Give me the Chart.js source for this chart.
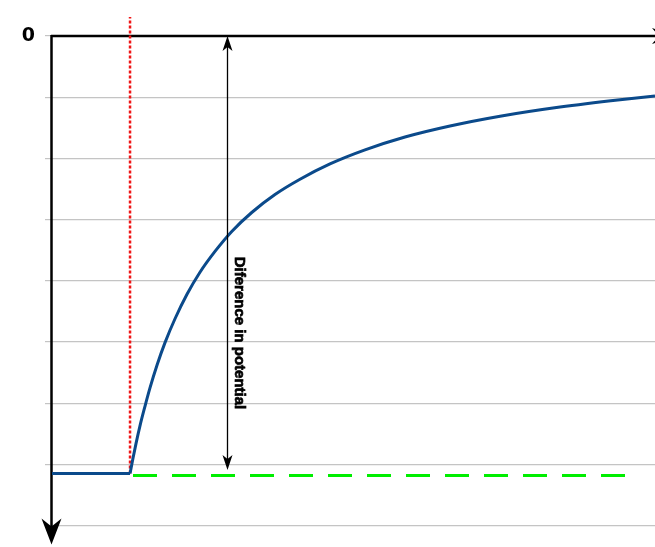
<!DOCTYPE html>
<html><head><meta charset="utf-8">
<script src="https://cdn.jsdelivr.net/npm/chart.js@4/dist/chart.umd.min.js"></script>
<style>html,body{margin:0;padding:0;background:#fff;}canvas{display:block;}</style>
</head><body>
<canvas id="c" width="655" height="547"></canvas>
<script>
// ---- data ----
const yTickValues = [0, -1, -2, -3, -4, -5, -6, -7, -8];
const yTickLabels = ['0', '', '', '', '', '', '', '', ''];
const flatX = [0, 12.94];
const flatY = [-7.15, -7.15];
const curveX = [12.94, 13.43, 13.93, 14.59, 15.42, 16.25, 17.41, 18.74, 20.40, 22.39, 24.54, 27.03, 29.85, 33.17, 36.98, 41.13, 46.10, 51.91, 58.54, 66.00, 74.30, 84.25, 94.20, 100];
const curveY = [-7.15, -6.90, -6.66, -6.37, -6.05, -5.75, -5.38, -5.01, -4.62, -4.22, -3.86, -3.52, -3.19, -2.88, -2.59, -2.34, -2.09, -1.86, -1.65, -1.47, -1.31, -1.16, -1.04, -0.98];
const markerX = [12.94, 12.94];
const markerY = [-7.15, 0.31];
const baseX = [13.43, 95.1];
const baseY = [-7.18, -7.18];
const diffX = [29.02];
const diffTop = [0];
const diffBottom = [-7.09];
const diffLabel = 'Diference in potential';

const pts = (xs, ys) => xs.map((x, i) => ({x: x, y: ys[i]}));

const axesPlugin = {
  id: 'axes',
  beforeDatasetsDraw(chart) {
    const ctx = chart.ctx, a = chart.chartArea;
    ctx.save();
    ctx.strokeStyle = '#000'; ctx.fillStyle = '#000'; ctx.lineWidth = 2.5;
    ctx.beginPath(); ctx.moveTo(a.left - 1, a.top); ctx.lineTo(a.right + 20, a.top); ctx.stroke();
    const tx = a.right + 20;
    ctx.beginPath(); ctx.moveTo(tx, a.top); ctx.lineTo(tx - 23, a.top - 8); ctx.lineTo(tx - 16, a.top); ctx.lineTo(tx - 23, a.top + 8); ctx.closePath(); ctx.fill();
    const lx = a.left - 0.5;
    ctx.beginPath(); ctx.moveTo(lx, a.top - 1); ctx.lineTo(lx, a.bottom + 6); ctx.stroke();
    const tipY = a.bottom + 19;
    ctx.beginPath(); ctx.moveTo(lx, tipY); ctx.lineTo(lx - 10, tipY - 26); ctx.lineTo(lx, tipY - 18); ctx.lineTo(lx + 10, tipY - 26); ctx.closePath(); ctx.fill();
    ctx.restore();
  },
  afterDatasetsDraw(chart) {
    const ctx = chart.ctx, xs = chart.scales.x, ys = chart.scales.y;
    ctx.save();
    for (let i = 0; i < diffX.length; i++) {
      const x = Math.round(xs.getPixelForValue(diffX[i])) + 0.5;
      const t = ys.getPixelForValue(diffTop[i]);
      const b = ys.getPixelForValue(diffBottom[i]);
      ctx.strokeStyle = '#000'; ctx.fillStyle = '#000'; ctx.lineWidth = 1.3;
      ctx.beginPath(); ctx.moveTo(x, t + 8); ctx.lineTo(x, b - 8); ctx.stroke();
      ctx.beginPath(); ctx.moveTo(x, t); ctx.lineTo(x - 5, t + 15); ctx.lineTo(x, t + 11); ctx.lineTo(x + 5, t + 15); ctx.closePath(); ctx.fill();
      ctx.beginPath(); ctx.moveTo(x, b); ctx.lineTo(x - 5, b - 15); ctx.lineTo(x, b - 11); ctx.lineTo(x + 5, b - 15); ctx.closePath(); ctx.fill();
      ctx.save();
      ctx.translate(x + 12, 333);
      ctx.rotate(Math.PI / 2);
      ctx.font = 'bold 15px "Liberation Sans Narrow", "Liberation Sans", Arial, sans-serif';
      ctx.textAlign = 'center'; ctx.textBaseline = 'middle';
      ctx.lineWidth = 0.7; ctx.strokeStyle = '#000';
      ctx.fillText(diffLabel, 0, 0);
      ctx.strokeText(diffLabel, 0, 0);
      ctx.restore();
    }
    ctx.restore();
  }
};

new Chart(document.getElementById('c'), {
  type: 'line',
  data: {
    datasets: [
      {data: pts(flatX, flatY), borderColor: '#0b4a8b', borderWidth: 3, pointRadius: 0, tension: 0},
      {data: pts(curveX, curveY), borderColor: '#0b4a8b', borderWidth: 3, pointRadius: 0, cubicInterpolationMode: 'monotone'},
      {data: pts(markerX, markerY), borderColor: '#f01515', borderWidth: 2.5, borderDash: [3, 2], pointRadius: 0, clip: false},
      {data: pts(baseX, baseY), borderColor: '#00ee00', borderWidth: 3, borderDash: [24, 15], pointRadius: 0}
    ]
  },
  options: {
    responsive: false,
    animation: false,
    events: [],
    layout: {padding: {top: 36, bottom: 21, left: 0, right: 0}},
    plugins: {legend: {display: false}, tooltip: {enabled: false}},
    scales: {
      x: {type: 'linear', min: 0, max: 100, display: false},
      y: {
        type: 'linear', min: -8, max: 0,
        afterFit(s) { s.width = 52; },
        afterBuildTicks(s) { s.ticks = yTickValues.map(v => ({value: v})); },
        ticks: {
          padding: 10,
          color: '#000',
          font: {family: '"DejaVu Sans", "Liberation Sans", Arial, sans-serif', size: 19, weight: 'bold'},
          callback(v) { const i = yTickValues.indexOf(v); return i >= 0 ? yTickLabels[i] : ''; }
        },
        grid: {color: '#c4c4c4', lineWidth: 1.2, tickLength: 7, drawTicks: true},
        border: {display: false}
      }
    }
  },
  plugins: [axesPlugin]
});
</script>
</body></html>
